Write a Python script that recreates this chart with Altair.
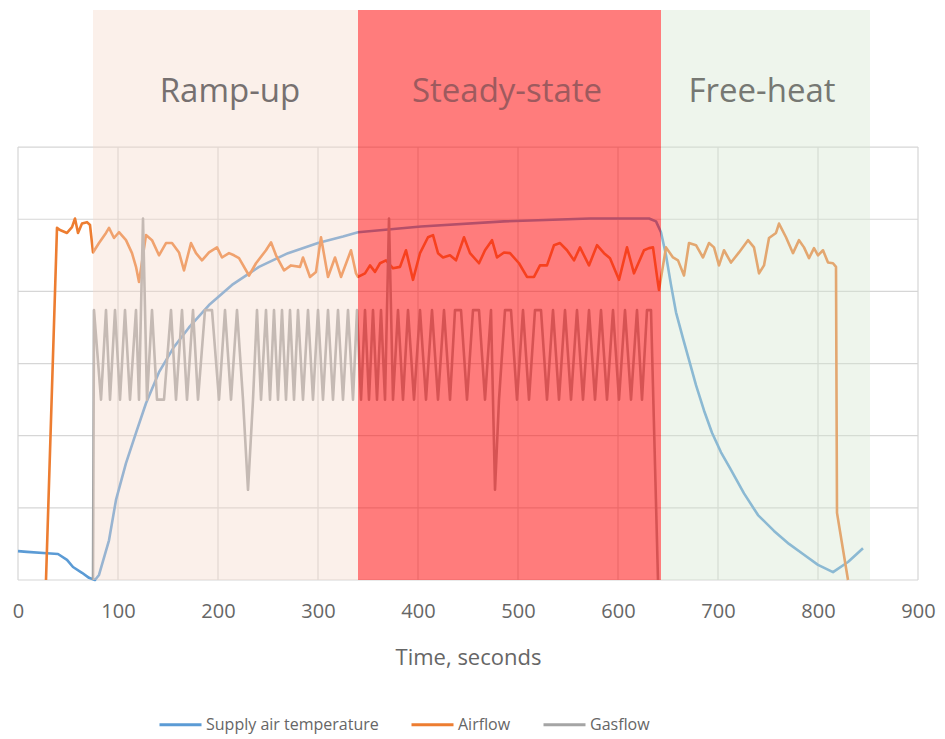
import altair as alt
import pandas as pd

# ---------------- data ----------------
series_names = ["Supply air temperature", "Airflow", "Gasflow"]
series_colors = ["#5B9BD5", "#ED7D31", "#A5A5A5"]

temp_points = [(0, 0.40), (9, 0.39), (29, 0.37), (40, 0.36), (49, 0.28), (55, 0.18), (64, 0.10), (71, 0.03),
               (77, 0.0), (81, 0.07), (91, 0.55), (98, 1.11), (108, 1.62), (118, 2.04), (128, 2.45), (141, 2.88),
               (156, 3.23), (171, 3.50), (191, 3.81), (214, 4.09), (241, 4.34), (270, 4.53), (300, 4.67),
               (325, 4.76), (340, 4.82), (403, 4.90), (486, 4.97), (572, 5.01), (631, 5.01), (638, 4.97),
               (643, 4.82), (648, 4.50), (653, 4.09), (658, 3.71), (665, 3.35), (671, 3.05), (678, 2.70),
               (686, 2.35), (694, 2.04), (703, 1.77), (712, 1.55), (726, 1.20), (740, 0.90), (756, 0.68),
               (771, 0.50), (786, 0.35), (800, 0.21), (815, 0.11), (830, 0.25), (845, 0.44)]

air_points = [(28, 0), (39, 4.88), (42, 4.85), (49, 4.81), (54, 4.89), (57, 5.01), (60, 4.81), (64, 4.94),
              (69, 4.96), (72, 4.92), (75, 4.54), (81, 4.67), (88, 4.81), (91, 4.88), (96, 4.74), (101, 4.82),
              (108, 4.71), (114, 4.53), (118, 4.34), (121, 4.13), (128, 4.78), (134, 4.71), (141, 4.50),
              (148, 4.67), (154, 4.67), (161, 4.54), (166, 4.29), (173, 4.67), (178, 4.53), (184, 4.43),
              (191, 4.54), (199, 4.61), (204, 4.47), (211, 4.53), (216, 4.50), (221, 4.46), (231, 4.22),
              (238, 4.39), (248, 4.57), (253, 4.68), (258, 4.50), (266, 4.29), (273, 4.36), (282, 4.34),
              (285, 4.47), (292, 4.20), (298, 4.27), (303, 4.75), (310, 4.20), (317, 4.47), (323, 4.20),
              (333, 4.57), (338, 4.25), (340, 4.20), (347, 4.25), (352, 4.36), (357, 4.27), (362, 4.39),
              (368, 4.43), (375, 4.32), (382, 4.34), (388, 4.57), (395, 4.16), (402, 4.53), (410, 4.75),
              (415, 4.78), (420, 4.53), (425, 4.47), (432, 4.50), (438, 4.43), (446, 4.75), (452, 4.53),
              (461, 4.39), (467, 4.57), (474, 4.71), (479, 4.47), (486, 4.54), (492, 4.53), (501, 4.39),
              (509, 4.20), (516, 4.20), (522, 4.36), (529, 4.36), (536, 4.64), (542, 4.67), (549, 4.57),
              (556, 4.43), (562, 4.61), (571, 4.36), (579, 4.64), (586, 4.53), (592, 4.46), (601, 4.16),
              (609, 4.61), (616, 4.25), (626, 4.57), (631, 4.60), (635, 4.61), (640, 4.11), (641, 4.02),
              (648, 4.61), (655, 4.47), (660, 4.43), (666, 4.22), (671, 4.67), (678, 4.64), (685, 4.47),
              (691, 4.67), (696, 4.61), (701, 4.36), (706, 4.57), (713, 4.40), (721, 4.54), (730, 4.71),
              (736, 4.61), (741, 4.25), (746, 4.36), (751, 4.74), (758, 4.81), (761, 4.94), (768, 4.75),
              (775, 4.53), (781, 4.71), (786, 4.61), (791, 4.46), (796, 4.60), (800, 4.50), (805, 4.57),
              (810, 4.40), (815, 4.39), (818, 4.34), (819, 0.93), (830, 0)]

gas_points = [(75, 0), (76, 3.74), (83, 2.50), (88, 3.74), (92, 2.50), (97, 3.74), (102, 2.50), (107, 3.74),
              (112, 2.50), (118, 3.74), (121, 2.50), (125, 5.01), (129, 2.50), (134, 3.74), (139, 2.50),
              (146, 2.50), (153, 3.74), (158, 2.50), (164, 3.74), (169, 2.50), (175, 3.74), (180, 2.50),
              (187, 3.74), (194, 3.74), (201, 2.50), (207, 3.74), (213, 2.50), (219, 3.74), (225, 2.50),
              (230, 1.25), (235, 2.50), (239, 3.74), (243, 2.50), (248, 3.74), (252, 2.50), (256, 3.74),
              (260, 2.50), (264, 3.74), (268, 2.50), (272, 3.74), (276, 2.50), (280, 3.74), (285, 2.50),
              (290, 3.74), (295, 2.50), (300, 3.74), (305, 2.50), (310, 3.74), (315, 2.50), (320, 3.74),
              (325, 2.50), (330, 3.74), (335, 2.50), (339, 3.74), (343, 2.50), (347, 3.74), (351, 2.50),
              (355, 3.74), (359, 2.50), (363, 3.74), (367, 2.50), (371, 5.01), (375, 2.50), (380, 3.74),
              (385, 2.50), (390, 3.74), (396, 2.50), (402, 3.74), (408, 2.50), (414, 3.74), (420, 2.50),
              (426, 3.74), (432, 2.50), (437, 3.74), (443, 3.74), (449, 2.50), (455, 3.74), (461, 3.74),
              (467, 2.50), (473, 3.74), (477, 1.25), (481, 2.50), (487, 3.74), (493, 3.74), (499, 2.50),
              (505, 3.74), (511, 2.50), (517, 3.74), (523, 3.74), (529, 2.50), (535, 3.74), (541, 2.50),
              (547, 3.74), (553, 2.50), (559, 3.74), (565, 2.50), (571, 3.74), (577, 2.50), (583, 3.74),
              (589, 2.50), (595, 3.74), (601, 2.50), (607, 3.74), (613, 2.50), (619, 3.74), (624, 2.50),
              (629, 3.74), (633, 3.74), (640, 0)]

phase_names = ["Ramp-up", "Steady-state", "Free-heat"]
phase_start = [75, 340, 643]
phase_end = [340, 643, 852]
phase_fill = ["#F5DACA", "#FF1111", "#D4E6CF"]
phase_opacity = [0.4, 0.55, 0.4]
phase_label_x = [212, 489, 744]
phase_label_color = ["#767070", "#9E5A5E", "#767873"]
phase_label_y = 6.77
phase_top = 7.9

x_ticks = [0, 100, 200, 300, 400, 500, 600, 700, 800, 900]
y_grid = [0, 1, 2, 3, 4, 5, 6]

# ---------------- tables ----------------
rows = []
for name, pts in zip(series_names, [temp_points, air_points, gas_points]):
    for i, (t, v) in enumerate(pts):
        rows.append({"series": name, "time": t, "value": v, "idx": i})
lines_df = pd.DataFrame(rows)

phase_df = pd.DataFrame({
    "name": phase_names, "start": phase_start, "end": phase_end,
    "fill": phase_fill, "op": phase_opacity, "lx": phase_label_x,
    "tcolor": phase_label_color,
})
phase_df["lo"] = 0
phase_df["top"] = phase_top
phase_df["ly"] = phase_label_y

gv_df = pd.DataFrame({"t": x_ticks})
gv_df["lo"] = y_grid[0]
gv_df["hi"] = y_grid[-1]
gh_df = pd.DataFrame({"v": y_grid})
gh_df["lo"] = x_ticks[0]
gh_df["hi"] = x_ticks[-1]

# ---------------- encodings ----------------
FONT = "Open Sans"
TXT = "#666666"
xscale = alt.Scale(domain=[0, 900], nice=False, zero=False)
yscale = alt.Scale(domain=[0, phase_top], nice=False, zero=False)
xaxis = alt.Axis(values=x_ticks, grid=False, domain=False, ticks=False, labelFlush=False,
                 labelFont=FONT, labelFontSize=20, labelColor=TXT, labelPadding=21,
                 titleFont=FONT, titleFontSize=22, titleColor=TXT, titleFontWeight="normal",
                 titlePadding=26)


def X(field):
    return alt.X(f"{field}:Q", scale=xscale, axis=xaxis, title="Time, seconds")


def Y(field):
    return alt.Y(f"{field}:Q", scale=yscale, axis=None)


grid_v = alt.Chart(gv_df).mark_rule(color="#D6D6D6", strokeWidth=1.2).encode(
    x=X("t"), y=Y("lo"), y2="hi")
grid_h = alt.Chart(gh_df).mark_rule(color="#D6D6D6", strokeWidth=1.2).encode(
    y=Y("v"), x=X("lo"), x2="hi")

color_enc = alt.Color(
    "series:N",
    scale=alt.Scale(domain=series_names, range=series_colors),
    legend=alt.Legend(orient="none", legendX=140, legendY=692, direction="horizontal", title=None,
                      symbolType="stroke", symbolSize=1764, symbolStrokeWidth=3,
                      labelFont=FONT, labelFontSize=16, labelColor=TXT, labelOffset=3,
                      labelLimit=0, columnPadding=26),
)

line_layers = []
for name in series_names:
    line_layers.append(
        alt.Chart(lines_df).transform_filter(alt.datum.series == name)
        .mark_line(strokeWidth=2.6, strokeJoin="round")
        .encode(x=X("time"), y=Y("value"), color=color_enc, order="idx:Q")
    )

rects = alt.Chart(phase_df).mark_rect().encode(
    x=X("start"), x2="end", y=Y("lo"), y2="top",
    color=alt.Color("fill:N", scale=None),
    opacity=alt.Opacity("op:Q", scale=None),
)

labels = alt.Chart(phase_df).mark_text(font=FONT, fontSize=33, align="center", baseline="middle").encode(
    x=X("lx"), y=Y("ly"), text="name:N",
    color=alt.Color("tcolor:N", scale=None),
)

chart = alt.layer(grid_v, grid_h, *line_layers, rects, labels).properties(
    width=900, height=570,
    padding={"left": 10, "top": 2, "right": 19, "bottom": 158},
    autosize=alt.AutoSizeParams(type="none"),
).configure_view(stroke=None)

chart.save("out.html", embed_options={"renderer": "svg", "actions": False})
